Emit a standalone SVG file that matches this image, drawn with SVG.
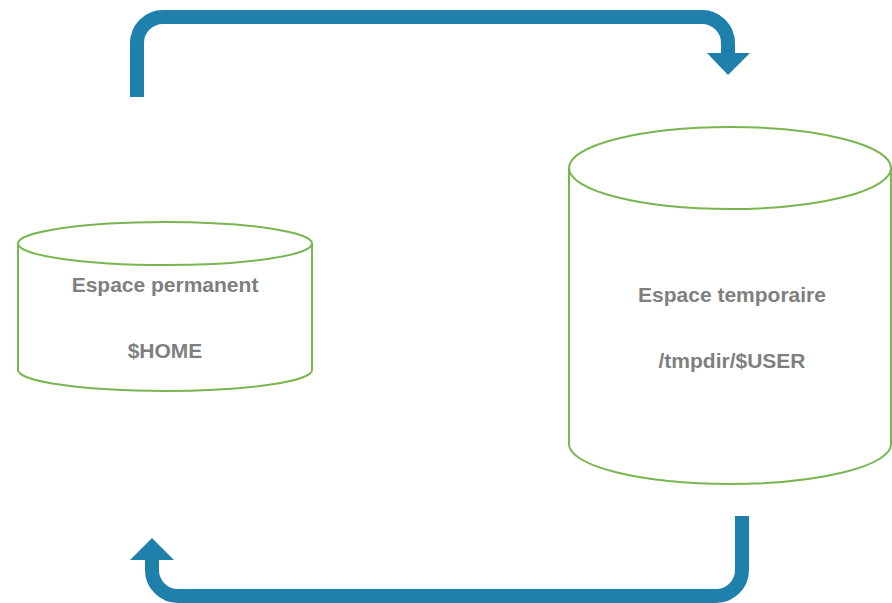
<svg xmlns="http://www.w3.org/2000/svg" width="892" height="603" viewBox="0 0 892 603">
<style>
.cyl{fill:#ffffff;stroke:#78b650;stroke-width:2}
.lbl{font-family:"Liberation Sans",Arial,sans-serif;font-weight:bold;font-size:21px;fill:#7f7f7f;text-anchor:middle}
.flow{fill:none;stroke:#1f80ab;stroke-width:14}
.head{fill:#1f80ab}
</style>
<rect width="892" height="603" fill="#ffffff"/>
<g id="connectors">
<path class="flow" d="M137,97 V43 A26,26 0 0 1 163,17 H702 A26,26 0 0 1 728,43 V54"/>
<polygon class="head" points="707,53 750,53 728,75"/>
<path class="flow" d="M742,516 V570 A26,26 0 0 1 716,596 H178 A26,26 0 0 1 152,570 V559"/>
<polygon class="head" points="130,560 174,560 152,538"/>
</g>
<g id="permanent">
<path class="cyl" d="M18,243.5 V370 A147,21 0 0 0 312,370 V243.5"/>
<ellipse class="cyl" cx="165" cy="243.5" rx="147" ry="21.5"/>
<text class="lbl" x="165" y="292">Espace permanent</text>
<text class="lbl" x="165" y="358">$HOME</text>
</g>
<g id="temporaire">
<path class="cyl" d="M569,168 V444 A161,40 0 0 0 891,444 V168"/>
<ellipse class="cyl" cx="730" cy="168" rx="161" ry="41"/>
<text class="lbl" x="732" y="302">Espace temporaire</text>
<text class="lbl" x="732" y="368">/tmpdir/$USER</text>
</g>
</svg>
